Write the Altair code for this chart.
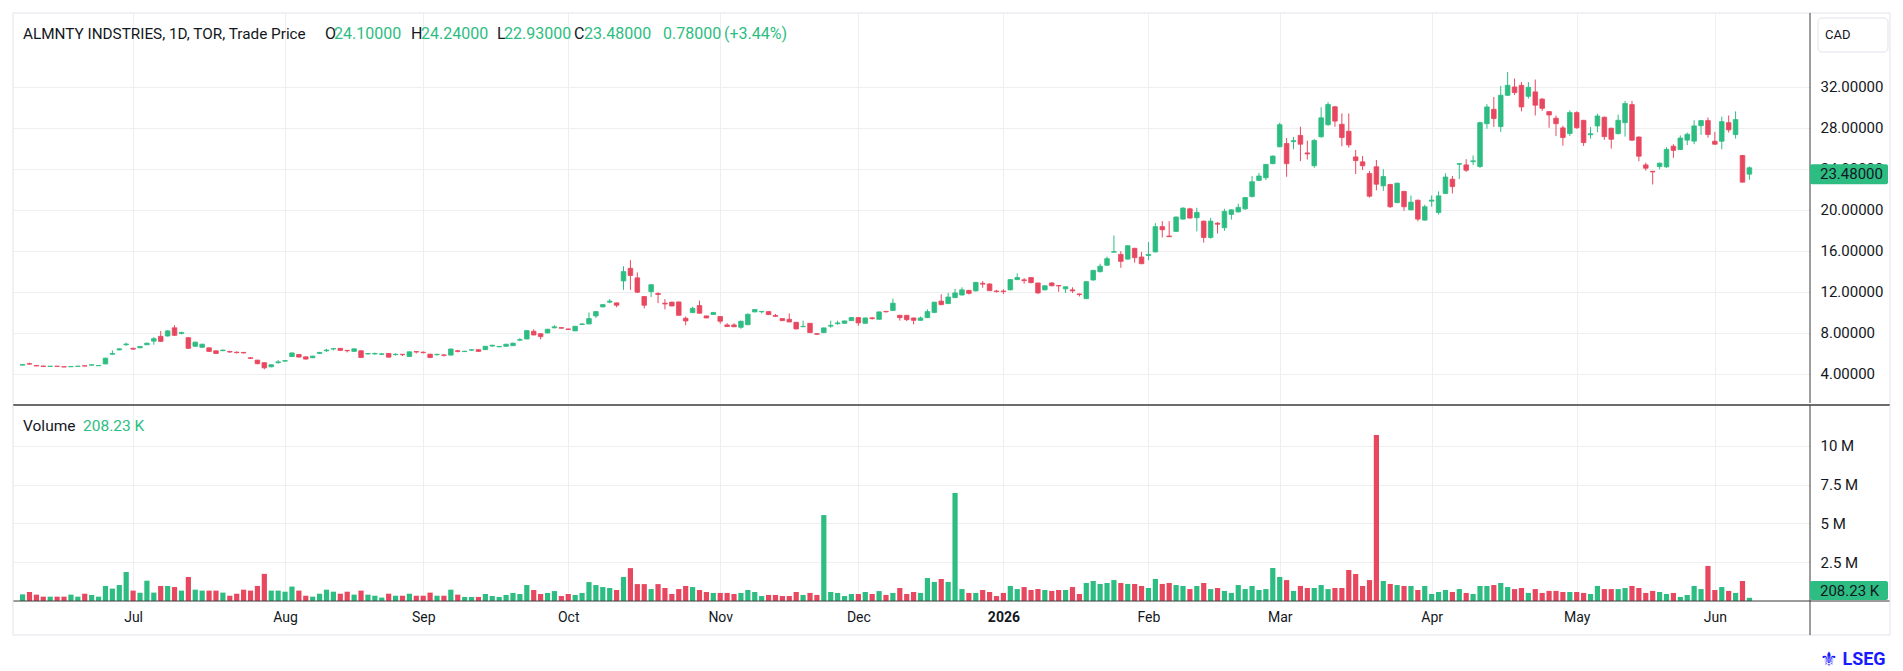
import altair as alt
import pandas as pd

# ---------------- data ----------------
opens = [
    4.86, 5.00, 4.82, 4.78, 4.74, 4.76, 4.71, 4.70, 4.74, 4.80,
    4.86, 4.80, 4.98, 5.92, 6.35, 6.85, 6.50, 6.55, 6.85, 7.20,
    7.67, 7.70, 8.50, 7.95, 7.54, 6.70, 6.60, 6.55, 6.26, 6.27,
    6.20, 6.12, 6.10, 5.58, 5.35, 5.10, 4.70, 5.10, 5.25, 5.70,
    5.90, 5.67, 5.58, 6.00, 6.26, 6.43, 6.50, 6.30, 6.20, 6.26,
    5.95, 5.95, 5.92, 6.00, 5.88, 5.92, 5.70, 6.18, 6.12, 5.93,
    5.88, 5.86, 5.84, 6.26, 6.18, 6.32, 6.37, 6.37, 6.72, 6.65,
    6.70, 6.76, 7.30, 7.41, 8.16, 7.93, 8.00, 8.50, 8.52, 8.39,
    8.20, 8.82, 8.88, 9.66, 10.54, 11.00, 10.93, 13.07, 14.30, 13.37,
    11.55, 12.03, 11.85, 10.90, 11.00, 11.02, 9.43, 9.98, 10.67, 9.66,
    9.80, 9.60, 8.78, 8.78, 8.55, 8.80, 10.05, 10.06, 10.08, 9.70,
    9.40, 9.33, 9.04, 8.60, 8.94, 7.93, 8.03, 8.66, 8.90, 8.94,
    9.20, 9.50, 8.94, 9.47, 9.33, 10.10, 10.20, 9.72, 9.72, 9.46,
    9.23, 9.49, 10.00, 11.10, 10.86, 11.44, 11.70, 12.15, 12.10, 12.84,
    12.77, 12.09, 12.09, 12.20, 13.20, 13.18, 13.40, 12.87, 12.20, 12.87,
    12.63, 12.30, 12.20, 11.80, 11.34, 13.16, 13.97, 14.60, 15.87, 15.66,
    15.20, 16.25, 15.40, 15.55, 15.90, 18.36, 17.45, 17.90, 19.10, 20.10,
    19.23, 18.90, 17.30, 18.70, 18.26, 19.56, 19.80, 20.10, 21.30, 22.87,
    23.13, 24.50, 26.15, 26.47, 26.65, 27.25, 25.55, 24.30, 27.12, 28.30,
    30.05, 28.34, 27.66, 25.16, 24.68, 23.54, 24.20, 22.34, 22.47, 20.70,
    21.80, 20.00, 20.94, 19.00, 20.85, 19.74, 21.60, 22.99, 24.45, 24.38,
    24.70, 24.22, 28.40, 29.80, 28.12, 31.17, 31.98, 32.14, 31.07, 31.50,
    30.80, 29.58, 28.93, 27.99, 27.44, 29.48, 28.73, 27.32, 28.18, 29.03,
    27.96, 27.43, 28.50, 30.26, 27.10, 24.38, 23.76, 24.22, 24.19, 26.20,
    25.88, 26.80, 26.70, 28.20, 28.70, 26.69, 26.69, 28.50, 27.34, 25.30,
    24.10,
]
highs = [
    4.95, 5.10, 4.84, 4.80, 4.78, 4.78, 4.72, 4.75, 4.78, 4.82,
    4.92, 4.86, 5.58, 6.30, 6.50, 7.05, 6.55, 6.70, 7.05, 7.60,
    8.20, 8.25, 8.75, 8.10, 7.56, 7.15, 6.95, 6.58, 6.28, 6.38,
    6.25, 6.20, 6.15, 5.62, 5.38, 5.12, 4.92, 5.35, 5.35, 6.10,
    5.93, 5.70, 5.78, 6.15, 6.45, 6.48, 6.52, 6.32, 6.50, 6.30,
    6.05, 6.08, 6.05, 6.03, 6.00, 5.94, 6.20, 6.20, 6.20, 5.96,
    5.94, 5.88, 6.47, 6.35, 6.25, 6.40, 6.42, 6.72, 6.85, 6.72,
    6.93, 7.05, 7.50, 8.26, 8.35, 7.95, 8.40, 8.75, 8.55, 8.42,
    8.68, 8.95, 10.00, 10.12, 10.80, 11.30, 10.95, 14.50, 15.10, 13.90,
    11.60, 12.75, 11.95, 11.30, 11.05, 11.05, 9.60, 10.55, 11.15, 9.68,
    10.03, 9.62, 8.95, 8.95, 9.20, 9.90, 10.32, 10.12, 10.10, 9.85,
    9.42, 9.90, 9.06, 9.20, 8.97, 7.95, 8.52, 9.20, 9.20, 9.20,
    9.55, 9.53, 9.50, 9.55, 10.08, 10.15, 11.35, 9.76, 9.75, 9.50,
    9.60, 10.30, 11.03, 11.77, 11.90, 12.30, 12.45, 12.20, 12.97, 13.05,
    12.85, 12.20, 12.25, 13.25, 13.80, 13.35, 13.45, 12.90, 12.63, 12.95,
    12.65, 12.55, 12.45, 11.85, 13.05, 14.15, 14.75, 15.45, 17.50, 15.98,
    16.55, 16.30, 15.90, 16.86, 18.70, 18.90, 18.90, 19.35, 20.25, 20.20,
    20.20, 18.95, 19.20, 18.80, 20.10, 20.05, 20.60, 21.25, 23.30, 23.60,
    24.47, 25.30, 28.50, 27.00, 27.10, 28.10, 26.75, 26.90, 30.00, 30.50,
    30.13, 29.40, 29.40, 25.84, 25.25, 23.80, 24.86, 23.96, 22.55, 22.65,
    21.85, 21.40, 21.00, 20.50, 21.40, 21.80, 23.55, 23.30, 24.55, 24.94,
    25.30, 28.60, 30.30, 31.00, 32.08, 33.44, 32.80, 32.46, 32.46, 32.70,
    30.90, 29.60, 29.20, 28.20, 29.70, 29.60, 28.75, 28.08, 29.38, 29.10,
    28.00, 29.28, 30.62, 30.62, 27.15, 24.60, 23.80, 24.60, 26.10, 26.40,
    27.26, 27.53, 28.73, 28.75, 29.00, 27.60, 29.08, 29.20, 29.60, 25.35,
    24.24,
]
lows = [
    4.84, 4.93, 4.76, 4.70, 4.72, 4.73, 4.66, 4.69, 4.73, 4.76,
    4.85, 4.78, 4.95, 5.88, 6.30, 6.75, 6.35, 6.52, 6.82, 6.85,
    7.15, 7.65, 7.70, 7.85, 6.45, 6.65, 6.55, 6.15, 5.97, 6.22,
    6.05, 6.00, 6.00, 5.45, 4.95, 4.45, 4.65, 5.00, 5.20, 5.65,
    5.60, 5.42, 5.55, 5.95, 6.15, 6.30, 6.28, 6.10, 6.18, 5.57,
    5.90, 5.88, 5.86, 5.60, 5.80, 5.75, 5.66, 6.00, 6.00, 5.55,
    5.78, 5.70, 5.80, 6.10, 6.15, 6.28, 6.18, 6.35, 6.65, 6.60,
    6.68, 6.74, 7.20, 7.38, 7.78, 7.38, 7.97, 8.45, 8.42, 8.30,
    8.18, 8.78, 8.85, 9.45, 10.50, 10.90, 10.50, 12.20, 12.20, 11.90,
    10.40, 11.50, 10.90, 10.30, 10.60, 9.70, 8.75, 9.95, 9.90, 9.44,
    9.78, 8.90, 8.60, 8.58, 8.40, 8.78, 10.02, 9.90, 9.77, 9.55,
    9.18, 9.05, 8.35, 8.58, 8.00, 7.80, 8.00, 8.50, 8.80, 8.92,
    9.18, 8.70, 8.92, 9.30, 9.30, 10.00, 10.15, 9.20, 9.15, 8.84,
    9.20, 9.45, 9.97, 10.70, 10.83, 11.40, 11.65, 11.75, 12.05, 12.40,
    12.10, 11.95, 11.80, 12.15, 13.15, 12.80, 12.85, 11.80, 12.15, 12.55,
    12.00, 11.90, 11.90, 11.55, 11.30, 13.10, 13.90, 14.55, 15.85, 14.35,
    15.15, 14.85, 14.70, 15.10, 15.85, 17.30, 17.35, 17.85, 19.05, 19.15,
    17.90, 16.80, 17.20, 17.70, 17.95, 19.05, 19.75, 20.00, 21.20, 22.80,
    22.90, 24.45, 26.10, 23.23, 25.90, 24.75, 24.90, 24.10, 27.05, 28.20,
    28.10, 26.20, 26.07, 23.50, 23.88, 21.20, 21.90, 21.85, 20.20, 20.65,
    19.90, 19.95, 18.90, 18.95, 20.30, 19.54, 21.55, 21.60, 23.00, 23.70,
    24.35, 24.10, 27.90, 28.08, 27.60, 31.10, 31.20, 29.60, 30.84, 29.20,
    29.64, 28.00, 27.20, 26.26, 27.20, 27.90, 26.23, 26.95, 27.56, 26.82,
    25.97, 27.35, 27.14, 26.75, 24.74, 23.82, 22.47, 23.96, 24.10, 25.07,
    25.85, 26.30, 26.40, 27.30, 27.04, 26.35, 25.90, 27.54, 26.95, 22.68,
    22.93,
]
closes = [
    4.92, 4.96, 4.78, 4.72, 4.76, 4.74, 4.68, 4.73, 4.76, 4.77,
    4.90, 4.83, 5.54, 6.00, 6.45, 6.92, 6.42, 6.68, 7.00, 7.44,
    7.18, 8.20, 7.77, 8.05, 6.50, 7.10, 6.90, 6.20, 6.00, 6.33,
    6.14, 6.08, 6.05, 5.52, 5.00, 4.60, 4.90, 5.18, 5.30, 6.05,
    5.65, 5.45, 5.74, 6.10, 6.33, 6.47, 6.30, 6.26, 6.45, 5.60,
    5.99, 6.00, 5.96, 5.64, 5.93, 5.88, 6.16, 6.14, 6.08, 5.60,
    5.92, 5.82, 6.43, 6.20, 6.22, 6.36, 6.20, 6.70, 6.80, 6.69,
    6.90, 7.00, 7.35, 8.23, 7.80, 7.64, 8.36, 8.60, 8.46, 8.33,
    8.65, 8.88, 9.40, 10.08, 10.76, 11.10, 10.70, 13.98, 13.60, 11.97,
    10.70, 12.70, 11.75, 10.82, 10.63, 9.72, 9.17, 10.40, 9.92, 9.46,
    10.00, 9.14, 8.62, 8.60, 9.14, 9.82, 10.28, 10.10, 9.79, 9.62,
    9.20, 9.07, 8.39, 8.64, 8.03, 7.87, 8.49, 8.74, 8.98, 9.17,
    9.50, 8.98, 9.46, 9.40, 10.05, 10.06, 10.90, 9.49, 9.30, 9.23,
    9.46, 10.08, 11.00, 10.76, 11.50, 11.90, 12.20, 11.86, 12.93, 12.76,
    12.12, 12.03, 12.03, 13.20, 13.40, 13.10, 12.90, 11.90, 12.60, 12.60,
    12.58, 12.50, 12.10, 11.74, 13.00, 14.10, 14.50, 15.24, 15.93, 14.98,
    16.50, 15.34, 14.75, 15.65, 18.36, 18.06, 17.38, 19.30, 20.17, 19.20,
    19.75, 17.30, 18.90, 18.60, 19.85, 20.00, 20.24, 21.20, 22.74, 23.30,
    24.43, 25.24, 28.30, 24.50, 26.75, 26.40, 25.45, 26.77, 28.97, 30.27,
    28.65, 27.05, 26.33, 24.80, 24.30, 21.33, 22.50, 23.25, 20.30, 22.60,
    20.30, 20.75, 19.10, 20.30, 20.95, 21.36, 23.20, 22.27, 24.50, 23.86,
    24.78, 28.50, 30.03, 28.90, 31.17, 32.14, 31.43, 30.03, 31.95, 30.20,
    29.90, 29.25, 28.40, 27.05, 29.48, 28.00, 26.56, 27.42, 29.15, 27.14,
    26.88, 28.73, 30.36, 26.79, 25.23, 24.06, 23.70, 24.55, 25.90, 25.80,
    27.00, 27.37, 28.18, 28.70, 27.34, 26.40, 28.60, 27.80, 28.80, 22.70,
    23.48,
]
volumes_m = [
    0.43, 0.58, 0.41, 0.28, 0.28, 0.28, 0.28, 0.41, 0.28, 0.47,
    0.39, 0.28, 0.97, 0.80, 1.03, 1.87, 0.67, 0.54, 1.31, 0.54,
    0.97, 0.97, 0.90, 0.67, 1.55, 0.73, 0.67, 0.67, 0.67, 0.54,
    0.34, 0.47, 0.73, 0.67, 0.97, 1.75, 0.67, 0.67, 0.60, 0.93,
    0.67, 0.34, 0.28, 0.47, 0.73, 0.60, 0.47, 0.60, 0.41, 0.67,
    0.41, 0.34, 0.22, 0.47, 0.34, 0.34, 0.47, 0.34, 0.34, 0.54,
    0.34, 0.34, 0.73, 0.41, 0.26, 0.26, 0.26, 0.45, 0.32, 0.26,
    0.39, 0.52, 0.45, 1.03, 0.71, 0.45, 0.52, 0.64, 0.32, 0.45,
    0.39, 0.52, 1.22, 1.03, 0.90, 0.84, 0.71, 1.55, 2.12, 1.09,
    1.09, 0.77, 1.09, 0.84, 0.45, 0.77, 0.97, 0.90, 0.71, 0.58,
    0.52, 0.52, 0.52, 0.45, 0.52, 0.71, 0.58, 0.32, 0.39, 0.39,
    0.32, 0.32, 0.58, 0.39, 0.52, 0.39, 5.54, 0.58, 0.52, 0.32,
    0.45, 0.45, 0.58, 0.45, 0.64, 0.39, 0.52, 0.84, 0.45, 0.58,
    0.52, 1.48, 1.23, 1.42, 1.23, 6.97, 0.77, 0.52, 0.52, 0.71,
    0.58, 0.32, 0.52, 0.97, 0.77, 0.90, 0.71, 0.77, 0.71, 0.65,
    0.71, 0.71, 0.90, 0.45, 1.16, 1.29, 1.10, 1.16, 1.35, 1.16,
    1.10, 1.10, 0.97, 0.84, 1.42, 1.10, 1.16, 1.03, 0.97, 0.77,
    0.97, 1.16, 0.77, 0.84, 0.65, 0.52, 1.03, 0.77, 0.97, 0.71,
    0.77, 2.13, 1.55, 1.35, 0.65, 0.97, 0.84, 0.84, 1.03, 0.77,
    0.84, 0.84, 2.00, 1.74, 0.97, 1.35, 10.70, 1.29, 1.10, 1.03,
    0.97, 0.97, 0.71, 0.97, 0.45, 0.58, 0.71, 0.58, 0.77, 0.52,
    0.45, 0.97, 0.97, 1.03, 1.16, 0.90, 0.77, 0.84, 0.52, 0.77,
    0.52, 0.65, 0.65, 0.58, 0.58, 0.58, 0.52, 0.45, 0.97, 0.77,
    0.77, 0.77, 0.84, 0.97, 0.84, 0.52, 0.65, 0.58, 0.45, 0.52,
    0.26, 0.39, 0.97, 0.77, 2.26, 0.71, 0.90, 0.65, 0.52, 1.29,
    0.20823,
]

month_idx = [16, 38, 58, 79, 101, 121, 142, 163, 182, 204, 225, 245]
month_lbl = ["Jul", "Aug", "Sep", "Oct", "Nov", "Dec", "2026", "Feb", "Mar", "Apr", "May", "Jun"]
price_ticks = [4, 8, 12, 16, 20, 24, 28, 32]
vol_ticks = [2.5, 5, 7.5, 10]

n = len(closes)
assert all(len(a) == n for a in (opens, highs, lows, volumes_m)), [len(a) for a in (opens, highs, lows, closes, volumes_m)]

up = [c >= o for o, c in zip(opens, closes)]
up[-1] = closes[-1] >= closes[-2]  # header shows +0.78 for the last session; drawn green

df = pd.DataFrame({
    "i": list(range(n)), "open": opens, "high": highs, "low": lows,
    "close": closes, "vol": volumes_m,
    "dir": ["up" if u else "down" for u in up],
})

# ---------------- styling ----------------
GREEN = "#2dbd82"
RED = "#e8485f"
TXT = "#131722"
GRID = "#efefef"
FRAME = "#e0e3eb"
DARK = "#3b3b3b"
FONT = "Roboto"

W, HP, HV = 1797, 390, 196
FR, FB = 1877, 230

color_scale = alt.Scale(domain=["up", "down"], range=[GREEN, RED])
x_scale = alt.Scale(domain=[-0.6623, 258.05], nice=False, zero=False)
py_scale = alt.Scale(domain=[1.17, 39.19], nice=False, zero=False)
vy_scale = alt.Scale(domain=[0, 12.64], nice=False, zero=False)

label_expr = ("[" + ",".join(f"'{m}'" for m in month_lbl) + "][indexof(["
              + ",".join(str(v) for v in month_idx) + "], datum.value)]")

x_axis_price = alt.Axis(values=month_idx, labels=False, ticks=False, domain=False,
                        grid=True, gridColor=GRID, title=None)
x_axis_vol = alt.Axis(values=month_idx, labelExpr=label_expr, ticks=False, domain=False,
                      grid=True, gridColor=GRID, title=None, labelPadding=9,
                      labelFont=FONT, labelFontSize=14, labelColor=TXT, labelFlush=False,
                      labelFontWeight={"condition": {"test": "datum.value == 142", "value": "bold"},
                                       "value": "normal"})
y_axis_price = alt.Axis(orient="right", values=price_ticks, format=".5f", grid=True,
                        gridColor=GRID, ticks=False, domain=False, labelPadding=10,
                        labelFont=FONT, labelFontSize=15, labelColor=TXT, title=None,
                        labelAlign="left")
y_axis_vol = alt.Axis(orient="right", values=vol_ticks,
                      labelExpr="format(datum.value, '~g') + ' M'", grid=True,
                      gridColor=GRID, ticks=False, domain=False, labelPadding=10,
                      labelFont=FONT, labelFontSize=15, labelColor=TXT, title=None,
                      labelAlign="left")

one = pd.DataFrame({"a": [0]})


def label(text, x, y, color=TXT, size=16, weight="normal", align="left", font=FONT):
    return alt.Chart(pd.DataFrame({"t": [text]})).mark_text(
        align=align, baseline="middle", font=font, fontSize=size,
        fontWeight=weight, color=color).encode(text="t:N", x=alt.value(x), y=alt.value(y))


def hline(y, x1, x2, color, w=1.0):
    return alt.Chart(one).mark_rule(color=color, strokeWidth=w).encode(
        x=alt.value(x1), x2=alt.value(x2), y=alt.value(y))


def vline(x, y1, y2, color, w=1.0):
    return alt.Chart(one).mark_rule(color=color, strokeWidth=w).encode(
        x=alt.value(x), y=alt.value(y1), y2=alt.value(y2))


# ---------------- price pane ----------------
pbase = alt.Chart(df).encode(x=alt.X("i:Q", scale=x_scale, axis=x_axis_price))
wicks = pbase.mark_rule(strokeWidth=1).encode(
    y=alt.Y("low:Q", scale=py_scale, axis=y_axis_price), y2="high:Q",
    color=alt.Color("dir:N", scale=color_scale, legend=None))
bodies = pbase.mark_bar(size=4.6, strokeWidth=0.8).encode(
    y=alt.Y("open:Q", scale=py_scale, axis=y_axis_price), y2="close:Q",
    color=alt.Color("dir:N", scale=color_scale, legend=None),
    stroke=alt.Stroke("dir:N", scale=color_scale, legend=None))

last = df.tail(1)
last_box = alt.Chart(last).mark_rect(color=GREEN, yOffset=-10, y2Offset=10, cornerRadius=2).encode(
    x=alt.value(W), x2=alt.value(W + 78),
    y=alt.Y("close:Q", scale=py_scale, axis=y_axis_price), y2="close:Q")
last_txt = alt.Chart(last).mark_text(align="left", baseline="middle", font=FONT, fontSize=15,
                                     color=TXT).encode(
    x=alt.value(W + 10), y=alt.Y("close:Q", scale=py_scale, axis=y_axis_price),
    text=alt.Text("close:Q", format=".5f"))

cad_box = alt.Chart(one).mark_rect(fill="white", stroke=FRAME, strokeWidth=1, cornerRadius=4).encode(
    x=alt.value(1805), x2=alt.value(1875), y=alt.value(5), y2=alt.value(39))

hy = 21
header = [
    label("ALMNTY INDSTRIES, 1D, TOR, Trade Price", 10, hy, TXT, 15.3),
    label("O", 312, hy), label("24.10000", 321, hy, GREEN),
    label("H", 398, hy), label("24.24000", 408, hy, GREEN),
    label("L", 484, hy), label("22.93000", 491, hy, GREEN),
    label("C", 561, hy), label("23.48000", 571, hy, GREEN),
    label("0.78000", 650, hy, GREEN), label("(+3.44%)", 711, hy, GREEN),
]

price = alt.layer(
    wicks, bodies,
    hline(0, 0, FR, FRAME), vline(0, 0, HP, FRAME), vline(FR, 0, HP, FRAME),
    vline(W, 0, HP, DARK),
    last_box, last_txt, cad_box, label("CAD", 1812, 22, TXT, 13),
    *header,
).properties(width=W, height=HP)

# ---------------- volume pane ----------------
vbars = alt.Chart(df).mark_bar(size=5.2).encode(
    x=alt.X("i:Q", scale=x_scale, axis=x_axis_vol),
    y=alt.Y("vol:Q", scale=vy_scale, axis=y_axis_vol),
    color=alt.Color("dir:N", scale=color_scale, legend=None))

vol_box = alt.Chart(one).mark_rect(color=GREEN, cornerRadius=2).encode(
    x=alt.value(W), x2=alt.value(W + 78), y=alt.value(176), y2=alt.value(195))

volume = alt.layer(
    vbars,
    hline(0, 0, FR, DARK, 1.6), hline(HV, 0, FR, DARK, 1.2),
    vline(0, 0, FB, FRAME), vline(FR, 0, FB, FRAME), hline(FB, 0, FR, FRAME),
    vline(W, 0, FB, DARK),
    vol_box, label("208.23 K", W + 10, 185.5, TXT, 15),
    label("Volume", 10, 21, TXT, 15.5), label("208.23 K", 70, 21, GREEN, 15.5),
    label("\u269c", 1816, 255, "#1a1aff", 20, "normal", "center", "DejaVu Sans"),
    label("LSEG", 1851, 255, "#1a1aff", 18, "bold", "center"),
).properties(width=W, height=HV)

chart = alt.vconcat(price, volume, spacing=0).properties(
    padding={"left": 4, "top": 4, "right": 4, "bottom": 4},
    background="white",
).configure_view(stroke=None)

chart.save("out.html", embed_options={"renderer": "svg", "actions": False})
